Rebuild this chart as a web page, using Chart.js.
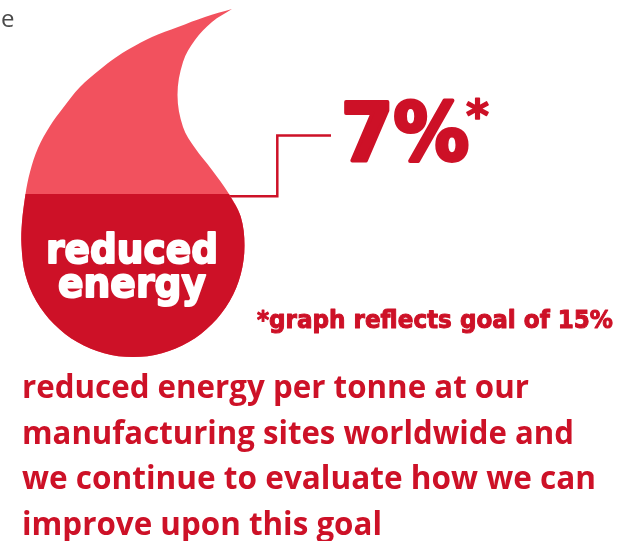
<!DOCTYPE html>
<html>
<head>
<meta charset="utf-8">
<style>
  html, body { margin: 0; padding: 0; background: #fff; }
  #wrap { width: 633px; height: 541px; position: relative; }
</style>
<script src="https://cdn.jsdelivr.net/npm/chart.js@4/dist/chart.umd.min.js"></script>
</head>
<body>
<div id="wrap"><canvas id="drop"></canvas></div>
<script>
'use strict';

const statedValue = '7%';
const goalValue = 15;

// drop outline, y axis is percent with the bowl bottom at 0
const leftEdgeX = [232, 205, 178, 152, 130, 115, 100, 80, 63, 50, 38, 30];
const leftEdgeY = [32.02, 31.29, 30.37, 29.45, 28.39, 27.51, 26.46, 24.85, 22.91, 21.26, 19.23, 17.02];
const bowlX = [25.5, 22, 21.5, 25.3, 36.4, 54.2, 77.25, 104.1, 133, 161.9, 188.75, 211.8, 229.6, 240.7, 244.5, 240.7, 229];
const bowlY = [goalValue, 12.42, 10.26, 7.6, 5.13, 3.01, 1.37, 0.35, 0, 0.35, 1.37, 3.01, 5.13, 7.6, 10.26, 12.92, goalValue];
const rightEdgeX = [212, 195, 183, 177.5, 183, 195, 212, 232];
const rightEdgeY = [17.21, 19.23, 21.17, 24.11, 27.15, 29.17, 30.83, 32.02];

// leader from the fill level to the figure
const leaderX = [228, 277.3, 277.3, 331];
const leaderY = [14.79, 14.79, 20.38, 20.38];

const toPoints = (xs, ys) => xs.map((x, i) => ({ x: x, y: ys[i] }));

const RED = '#cd1127';
const PINK = '#f2515e';
const HEAVY = '"DejaVu Sans"';
const BODY = '"Open Sans"';

const captions = [
  { text: 'e', x: 1, y: 27, font: '400 24px ' + BODY, color: '#4a4a4a' },
  { text: statedValue, x: 341, y: 160, width: 128, fat: 4, font: '700 80px ' + HEAVY, color: RED },
  { text: '*', x: 466, y: 131, fat: 1.5, font: '700 44px ' + HEAVY, color: RED },
  { text: 'reduced', x: 46, y: 263, width: 172, fat: 2, font: '700 41px ' + HEAVY, color: '#fff' },
  { text: 'energy', x: 58, y: 297, width: 148, fat: 2, font: '700 41px ' + HEAVY, color: '#fff' },
  { text: '*graph reflects goal of ' + goalValue + '%', x: 257, y: 328, width: 356, fat: 1, font: '700 24px ' + HEAVY, color: RED },
  { text: 'reduced energy per tonne at our', x: 22, y: 398, width: 507, font: '700 32px ' + BODY, color: RED },
  { text: 'manufacturing sites worldwide and', x: 22, y: 444, width: 552, font: '700 32px ' + BODY, color: RED },
  { text: 'we continue to evaluate how we can', x: 22, y: 489, width: 574, font: '700 32px ' + BODY, color: RED },
  { text: 'improve upon this goal', x: 22, y: 535, width: 360, font: '700 32px ' + BODY, color: RED }
];

const captionPlugin = {
  id: 'captions',
  afterDatasetsDraw(chart) {
    const ctx = chart.ctx;
    ctx.save();
    ctx.textBaseline = 'alphabetic';
    ctx.lineJoin = 'round';
    captions.forEach(c => {
      ctx.font = c.font;
      ctx.fillStyle = c.color;
      ctx.fillText(c.text, c.x, c.y, c.width);
      // thickens the heavy face
      if (c.fat) {
        ctx.strokeStyle = c.color;
        ctx.lineWidth = c.fat;
        ctx.strokeText(c.text, c.x, c.y, c.width);
      }
    });
    ctx.restore();
  }
};

new Chart(document.getElementById('drop'), {
  type: 'scatter',
  plugins: [captionPlugin],
  data: {
    datasets: [
      {
        label: 'goal',
        data: toPoints(bowlX, bowlY),
        showLine: true,
        tension: 0.35,
        borderWidth: 0,
        pointRadius: 0,
        backgroundColor: RED,
        fill: 'shape',
        order: 1
      },
      {
        label: 'drop',
        data: toPoints(leftEdgeX.concat(bowlX, rightEdgeX), leftEdgeY.concat(bowlY, rightEdgeY)),
        showLine: true,
        tension: 0.35,
        borderWidth: 0,
        pointRadius: 0,
        backgroundColor: PINK,
        fill: 'shape',
        order: 2
      },
      {
        label: 'leader',
        data: toPoints(leaderX, leaderY),
        showLine: true,
        tension: 0,
        borderColor: RED,
        borderWidth: 2.5,
        borderJoinStyle: 'miter',
        pointRadius: 0,
        fill: false,
        order: 3
      }
    ]
  },
  options: {
    responsive: true,
    maintainAspectRatio: false,
    animation: false,
    layout: { padding: 0 },
    plugins: { legend: { display: false }, tooltip: { enabled: false } },
    scales: {
      x: { display: false, min: 0, max: 633 },
      y: { display: false, min: -16.93, max: 32.85 }
    }
  }
});
</script>
</body>
</html>
